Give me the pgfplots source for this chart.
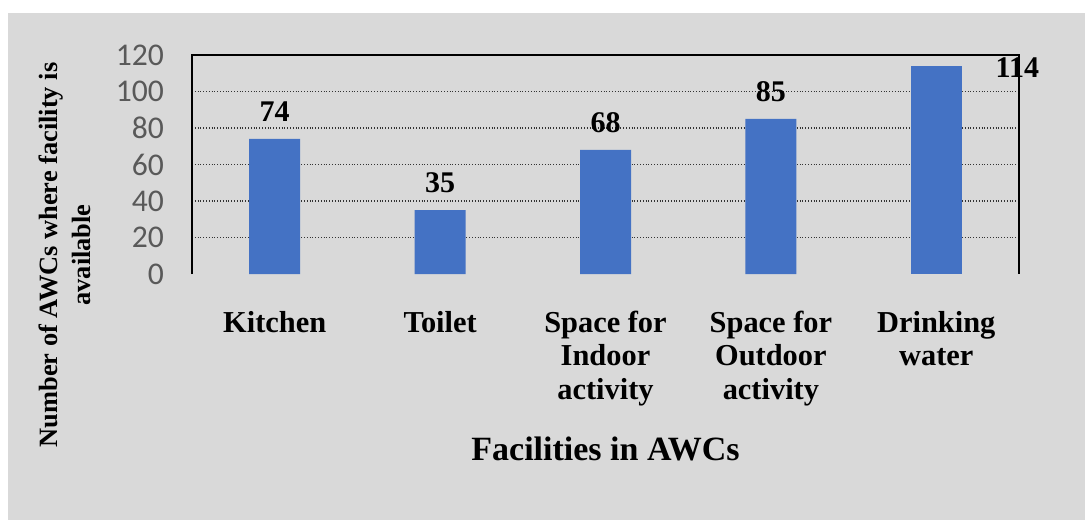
\documentclass[border=0pt]{standalone}
\usepackage{fontspec}
\setmainfont{Liberation Serif}
\newfontfamily\calibri{Carlito}
\usepackage{pgfplots}
\pgfplotsset{compat=1.18}
\definecolor{panel}{HTML}{D9D9D9}
\definecolor{barblue}{HTML}{4472C4}
\definecolor{ticktext}{HTML}{595959}
\begin{document}
\begin{tikzpicture}
\useasboundingbox (0,0) rectangle (542.5pt,260pt);
\fill[panel] (4pt,0pt) rectangle (542.5pt,253.5pt);
\begin{axis}[
  at={(96pt,123pt)}, anchor=south west,
  scale only axis, width=413.5pt, height=109.5pt,
  xmin=-0.5, xmax=4.5, ymin=0, ymax=120,
  axis line style={draw=none},
  ytick={20,40,...,120},
  extra y ticks={0},
  extra y tick style={grid=none, major grid style={draw=none}},
  xtick={0,1,2,3,4},
  xticklabels={Kitchen,Toilet,{Space for\\Indoor\\activity},{Space for\\Outdoor\\activity},{Drinking\\water}},
  xticklabel style={font=\fontsize{15.2}{16.75}\selectfont\bfseries, align=center, anchor=north, yshift=-15pt},
  yticklabel style={font=\fontsize{15.8}{18}\calibri, text=ticktext, anchor=east, xshift=-10.5pt},
  /pgf/number format/assume math mode=true,
  tick style={draw=none},
  ymajorgrids,
  grid style={densely dotted, black!80, line width=0.7pt},
  xlabel={Facilities in AWCs},
  xlabel style={font=\fontsize{17}{20}\selectfont\bfseries, at={(axis description cs:0.5,-0.8)}, anchor=center},
  ylabel={Number of AWCs where facility is\\available},
  ylabel style={font=\fontsize{13.2}{16.5}\selectfont\bfseries, align=center, at={(axis description cs:-0.1536,0.087)}, anchor=center, rotate=0},
  clip=false,
]
\addplot[ybar, bar width=25.5pt, bar shift=0pt, fill=barblue, draw=none,
  nodes near coords, every node near coord/.append style={font=\fontsize{15}{18}\selectfont\bfseries, black, yshift=5pt}]
  coordinates {(0,74) (1,35) (2,68) (3,85)};
\addplot[ybar, bar width=25.5pt, bar shift=0pt, fill=barblue, draw=none]
  coordinates {(4,114)};
\node[font=\fontsize{15}{18}\selectfont\bfseries, anchor=center] at (axis cs:4.49,113) {114};
\draw[black, line width=0.8pt] (rel axis cs:0,0) -- (rel axis cs:0,1) -- (rel axis cs:1,1) -- (rel axis cs:1,0);
\end{axis}
\end{tikzpicture}
\end{document}
